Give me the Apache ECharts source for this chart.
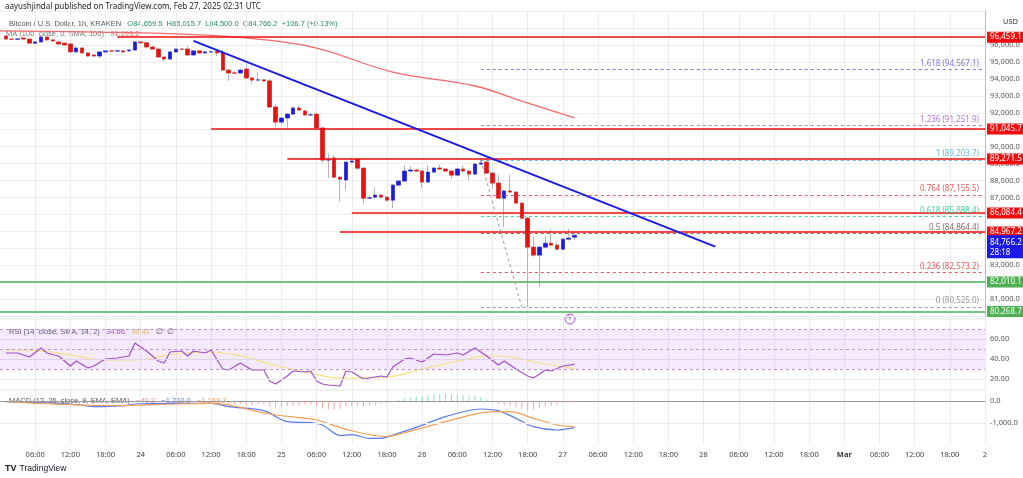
<!DOCTYPE html>
<html><head><meta charset="utf-8">
<script src="https://cdn.jsdelivr.net/npm/echarts@6/dist/echarts.min.js"></script>
<style>html,body{margin:0;padding:0;background:#fff}#c{width:1023px;height:478px}</style>
</head><body><div id="c"></div>
<script>
// ---- data (hour index 0 = Feb 23 00:00 UTC) ----
const FIRST_HOUR = 1;
const openP  = [96530,96350,96340,96410,96350,96100,96180,96470,96300,96180,96110,96060,95590,95820,95530,95410,95350,95590,95650,95640,95650,95650,95700,96180,96130,95880,95760,95290,95170,95590,95760,95760,95410,95650,95530,95590,95620,95530,94520,94350,94350,94580,94050,93930,93940,93880,92340,91450,91690,91920,92280,92100,91870,91920,91100,89210,89330,88200,88030,89090,89270,88730,86960,87020,87140,87020,86840,87730,87970,88560,88620,88560,87910,88500,88740,88680,88560,88320,88680,88560,88380,88970,89090,88440,87850,86960,87380,87320,86670,85780,84070,83600,84070,84300,84190,83950,84540,84659.5];
const closeP = [96350,96340,96360,96350,96110,96180,96470,96300,96240,96060,96000,95590,95820,95530,95350,95350,95590,95650,95640,95660,95590,95700,96180,96130,95880,95760,95290,95170,95590,95760,95750,95410,95650,95530,95590,95600,95530,94520,94350,94340,94520,94050,93930,93940,93880,92340,91450,91690,91920,92280,92160,91870,91880,91100,89210,89230,88200,88080,89090,89150,88730,86960,86980,87140,87020,86840,87730,87970,88560,88620,88560,87910,88500,88740,88680,88560,88320,88680,88560,88380,88970,89030,88440,87850,86960,87380,87320,86670,85780,84070,83600,84070,84300,84190,83950,84540,84600,84766.2];
const highP  = [96560,96400,96400,96450,96380,96220,96500,96500,96330,96200,96130,96100,95880,95850,95560,95450,95620,95700,95700,95700,95700,95740,96250,96220,96150,95950,95800,95250,95620,95800,95800,95950,95700,95680,95640,95660,95700,95700,94560,94450,94560,94900,94100,94400,94000,94000,92500,91750,91980,92380,92420,92180,91950,91980,91150,89600,89500,88260,89150,89350,89330,88800,87150,87600,87200,87080,87800,88000,88900,88850,88700,88620,88900,88800,88950,88720,88620,88750,88900,88620,89050,89330,89330,88500,88320,87450,88320,87380,86700,85820,84700,84120,84700,85130,84350,84600,85150,85015.7];
const lowP   = [96320,96300,96300,96320,96080,96060,96150,96260,96200,96020,95960,95550,95560,95480,95300,95300,95200,95560,95600,95610,95550,95620,95680,96080,95830,95700,95250,95050,95150,95550,95700,95380,95380,95480,95500,95550,95350,94480,93880,94300,94300,94000,93700,93880,93850,92300,91200,91300,91050,91880,92100,91820,91820,91050,89050,88150,88150,86750,87430,89050,88680,86600,86900,86980,86950,86780,86380,87650,87900,88500,88500,87550,87880,88450,88620,88500,88100,88280,88500,88000,88340,88950,88380,87500,86900,85250,87250,86600,85700,80525,83500,81700,84000,84150,83900,83900,84450,84500];

const maHours  = [0,17,34,44,54,67,81,89,98];
const maValues = [96830,96760,96600,96350,95820,94400,93580,92690,91693.2];

const rsiHours  = [1,3,5,7,8,10,12,13,15,16,18,20,22,23,25,27,28,29,31,32,33,35,36,38,39,41,43,45,46,47,49,50,52,53,54,55,56,58,59,60,62,63,65,66,67,69,70,72,74,76,78,79,81,83,85,86,88,90,91,93,94,96,98];
const rsiValues = [46,46,42,51,46,43,33,38,31,33,40,41,43,56,48,38,36,47,48,43,48,46,49,30,29,36,29,29,18,15,23,28,27,28,18,15,14,13,28,27,20,21,23,22,32,40,41,37,45,44,46,44,51,43,34,38,30,23,21,29,28,33,34.66];
const rsiMaHours  = [1,7,12,18,23,30,36,42,46,53,58,66,72,79,83,87,92,98];
const rsiMaValues = [49,48,44,39,39,45,47,42,35,26,21,22,30,39,43,42,36,30.41];

const macdHours  = [1,12,16,21,23,30,36,39,45,49,53,55,58,60,63,65,67,71,76,82,85,88,91,95,98];
const macdValues = [-30,-136,-258,-227,-136,-106,-106,-258,-440,-940,-985,-1090,-1575,-1530,-1700,-1700,-1545,-1200,-712,-364,-440,-788,-1167,-1318,-1210];
const signalHours  = [1,13,20,30,36,39,46,54,59,66,69,76,84,87,91,95,98];
const signalValues = [-30,-180,-212,-136,-106,-180,-591,-864,-1288,-1620,-1440,-940,-485,-485,-788,-1090,-1169.7];
const histFirstHour = 36;
const histValues = [-10,-30,-80,-120,-150,-130,-200,-180,-160,-150,-250,-300,-280,-240,-200,-180,-160,-150,-230,-330,-380,-400,-350,-260,-230,-210,-260,-220,-180,-120,-90,-20,60,110,160,200,220,260,300,320,330,300,290,270,260,230,170,80,-20,-120,-180,-200,-280,-350,-420,-400,-330,-260,-200,-150,-90,-60,-40.3];

const resistLevels = [96459.1, 91045.7, 89271.5, 86084.4, 84967.2];
const supportLevels = [82010.1, 80268.7];
const fibRatios = ['1.618','1.236','1','0.764','0.618','0.5','0.236','0'];
const fibLevels = [94567.1, 91251.9, 89203.7, 87155.5, 85888.4, 84864.4, 82573.2, 80525.0];
const trendStart = [33, 96240], trendEnd = [122, 84100];
const fibDiagStart = [82, 89203.7], fibDiagEnd = [89, 80525.0];
const lastPrice = 84766.2;

// ---- build ----
const N = 169;
const cats = [];
for (let h = 0; h < N; h++) cats.push(String(h));
function fmtLabel(v){
  const h = +v, day = 23 + Math.floor(h/24), hr = h % 24;
  if (hr) return (hr<10?'0':'')+hr+':00';
  if (day === 29) return '{b|Mar}';
  if (day === 30) return '2';
  return String(day);
}
const nf1 = v => v.toLocaleString('en-US',{minimumFractionDigits:1,maximumFractionDigits:1});
const wickData = cats.map(()=>'-'), bodyData = cats.map(()=>'-');
openP.forEach((o,i)=>{
  const h = FIRST_HOUR+i, c = closeP[i];
  wickData[h] = [o,c,lowP[i],highP[i]];
  bodyData[h] = [o,c,Math.min(o,c),Math.max(o,c)];
});
function sparse(hours, vals){ const a = cats.map(()=>null); hours.forEach((h,i)=>a[h]=vals[i]); return a; }
const hist = cats.map(()=>null);
histValues.forEach((v,i)=>hist[histFirstHour+i]=v);

const RED='#f20d0d', GREEN='#4caf50';
const redStart=[20,36,49,60,58];
const fibColors=['#7a7ad8','#b07ad8','#62b8e8','#e05a5a','#3fd1a0','#8a6a6a','#e05a5a','#999'];
const tag = (txt,bg)=>({show:true,position:'end',distance:2,formatter:txt,color:'#fff',backgroundColor:bg,padding:[2,3,1,3],fontSize:8});
const mlData=[];
resistLevels.forEach((v,i)=>mlData.push([{coord:[redStart[i],v],lineStyle:{color:RED,width:1.5,type:'solid'}},{coord:[168,v],label:tag(nf1(v),RED)}]));
supportLevels.forEach(v=>mlData.push([{coord:[0,v],lineStyle:{color:GREEN,width:1.5,type:'solid'}},{coord:[168,v],label:tag(nf1(v),GREEN)}]));
fibLevels.forEach((v,i)=>mlData.push([{coord:[82,v],lineStyle:{color:fibColors[i],width:1,type:[3,3]},label:{show:true,position:'insideEndTop',distance:[6,2],formatter:fibRatios[i]+' ('+nf1(v)+')',color:fibColors[i],fontSize:8}},{coord:[168,v]}]));
mlData.push([{coord:trendStart,lineStyle:{color:'#1a1ae6',width:2,type:'solid'}},{coord:trendEnd}]);
mlData.push([{coord:fibDiagStart,lineStyle:{color:'#999',width:1,type:[3,3]}},{coord:fibDiagEnd}]);
mlData.push([{coord:[167,lastPrice],lineStyle:{color:'rgba(0,0,0,0)',width:1}},{coord:[168,lastPrice],label:{show:true,position:'end',distance:2,formatter:nf1(lastPrice)+'\n28:18',color:'#fff',backgroundColor:'#1a1ae6',padding:[2,3,1,3],fontSize:8,lineHeight:10,align:'left',verticalAlign:'top'}}]);

const FONT='Noto Sans, sans-serif';
const vInt = (i)=> i%6===0 && i>0;
const xBase = (gi,show)=>({type:'category',gridIndex:gi,data:cats,boundaryGap:false,
  axisLine:{show:show,lineStyle:{color:'#999'}},axisTick:{show:false},
  axisLabel:{show:show,interval:(i)=>vInt(i),formatter:fmtLabel,fontSize:7.5,color:'#444',fontFamily:FONT,margin:6,rich:{b:{fontWeight:'bold',fontSize:7.5,color:'#333'}}},
  splitLine:{show:true,interval:(i)=>vInt(i),lineStyle:{color:'#ececec'}}});

const option={
  animation:false,
  textStyle:{fontFamily:FONT},
  grid:[{left:0,right:38,top:11.1,height:305},{left:0,right:38,top:299,height:100},{left:0,right:38,top:379,height:66}],
  xAxis:[xBase(0,false),xBase(1,false),xBase(2,true)],
  yAxis:[
    {gridIndex:0,position:'right',min:80000,max:98000,interval:1000,
     axisLine:{show:true,lineStyle:{color:'#bbb'}},axisTick:{show:false},
     axisLabel:{fontSize:7.5,color:'#555',margin:5,formatter:v=>(v<81000||v>96000)?'':nf1(v)},
     splitLine:{lineStyle:{color:'#efefef'}}},
    {gridIndex:1,position:'right',min:0,max:100,interval:20,
     axisLine:{show:false},axisTick:{show:false},splitLine:{show:false},
     axisLabel:{fontSize:7.5,color:'#555',margin:5,formatter:v=>(v>=20&&v<=60)?v.toFixed(2):''}},
    {gridIndex:2,position:'right',min:-2000,max:1000,interval:1000,
     axisLine:{show:false},axisTick:{show:false},splitLine:{show:false},
     axisLabel:{fontSize:7.5,color:'#555',margin:5,formatter:v=>(v===0||v===-1000)?nf1(v):''}}
  ],
  series:[
    {type:'candlestick',xAxisIndex:0,yAxisIndex:0,data:wickData,barWidth:4,silent:true,
     itemStyle:{color:'#b5b5b5',color0:'#b5b5b5',borderColor:'#b5b5b5',borderColor0:'#b5b5b5',borderWidth:1},
     markLine:{symbol:'none',silent:true,animation:false,label:{show:false},data:mlData}},
    {type:'candlestick',xAxisIndex:0,yAxisIndex:0,data:bodyData,barWidth:4,silent:true,
     itemStyle:{color:'#1b1be0',color0:'#ec1111',borderColor:'#1b1be0',borderColor0:'#ec1111',borderWidth:0.5}},
    {type:'line',xAxisIndex:0,yAxisIndex:0,data:sparse(maHours,maValues),connectNulls:true,smooth:0.4,symbol:'none',lineStyle:{color:'#f26a6a',width:1.3}},
    {type:'line',xAxisIndex:1,yAxisIndex:1,data:sparse(rsiMaHours,rsiMaValues),connectNulls:true,smooth:0.4,symbol:'none',lineStyle:{color:'#f7e07a',width:1.2},
     markArea:{silent:true,itemStyle:{color:'rgba(190,120,240,0.16)'},data:[[{yAxis:30,xAxis:0},{yAxis:70,xAxis:168}]]},
     markLine:{symbol:'none',silent:true,label:{show:false},data:[
       {yAxis:70,lineStyle:{color:'#b99ad0',type:[3,3],width:1}},{yAxis:50,lineStyle:{color:'#b99ad0',type:[3,3],width:1}},{yAxis:30,lineStyle:{color:'#b99ad0',type:[3,3],width:1}},
       {yAxis:60,lineStyle:{color:'#e2d2ee',type:'solid',width:1}},{yAxis:40,lineStyle:{color:'#e2d2ee',type:'solid',width:1}},{yAxis:20,lineStyle:{color:'#ececec',type:'solid',width:1}}]}},
    {type:'line',xAxisIndex:1,yAxisIndex:1,data:sparse(rsiHours,rsiValues),connectNulls:true,symbol:'none',lineStyle:{color:'#a34fc9',width:1.2}},
    {type:'bar',xAxisIndex:2,yAxisIndex:2,data:hist.map(v=>v==null?null:{value:v,itemStyle:{color:v<0?'#f7a3a3':'#8fdccb'}}),barWidth:1,
     markLine:{symbol:'none',silent:true,label:{show:false},data:[{yAxis:0,lineStyle:{color:'#999',type:[3,3],width:1}},{yAxis:-1000,lineStyle:{color:'#ececec',type:'solid',width:1}}]}},
    {type:'line',xAxisIndex:2,yAxisIndex:2,data:sparse(macdHours,macdValues),connectNulls:true,smooth:0.3,symbol:'none',lineStyle:{color:'#5c7cf2',width:1.2}},
    {type:'line',xAxisIndex:2,yAxisIndex:2,data:sparse(signalHours,signalValues),connectNulls:true,smooth:0.3,symbol:'none',lineStyle:{color:'#f5a05a',width:1.2}}
  ],
  graphic:[
    {type:'rect',left:0,top:0,shape:{width:1023,height:17},style:{fill:'#fff'},z:-1},
    {type:'text',left:5,top:3,style:{text:'aayushjindal published on TradingView.com, Feb 27, 2025 02:31 UTC',fontSize:8,fill:'#222',fontFamily:FONT}},
    {type:'text',left:9,top:18,style:{text:'{a|Bitcoin / U.S. Dollar, 1h, KRAKEN}  {g|O84,659.5  H85,015.7  L84,500.0  C84,766.2  +106.7 (+0.13%)}',fontFamily:FONT,rich:{a:{fontSize:7.5,fill:'#555'},g:{fontSize:7.5,fill:'#2d8a6a'}}}},
    {type:'text',left:6,top:27.5,style:{text:'{a|MA (100, close, 0, SMA, 100)}  {r|91,693.2}',fontFamily:FONT,rich:{a:{fontSize:7.5,fill:'#777'},r:{fontSize:7.5,fill:'#f26a6a'}}}},
    {type:'text',left:1003,top:18,style:{text:'USD',fontSize:7.5,fill:'#333',fontFamily:FONT}},
    {type:'text',left:9,top:326,style:{text:'{a|RSI (14, close, SMA, 14, 2)}  {p|34.66}  {y|30.41}  {a|∅  ∅}',fontFamily:FONT,rich:{a:{fontSize:7.5,fill:'#555'},p:{fontSize:7.5,fill:'#a34fc9'},y:{fontSize:7.5,fill:'#e6c84a'}}}},
    {type:'text',left:9,top:395,style:{text:'{a|MACD (12, 26, close, 9, EMA, EMA)}  {r|−40.3}  {b|−1,210.0}  {o|−1,169.7}',fontFamily:FONT,rich:{a:{fontSize:7.5,fill:'#555'},r:{fontSize:7.5,fill:'#f28b8b'},b:{fontSize:7.5,fill:'#5c7cf2'},o:{fontSize:7.5,fill:'#f5a05a'}}}},
    {type:'line',shape:{x1:0,y1:319,x2:985,y2:319},style:{stroke:'#e4e4e4',lineWidth:1}},
    {type:'line',shape:{x1:0,y1:390,x2:985,y2:390},style:{stroke:'#e4e4e4',lineWidth:1}},
    {type:'circle',shape:{cx:570,cy:319,r:5},style:{fill:'#fff',stroke:'#a34fc9',lineWidth:1}},
    {type:'text',left:567,top:314,style:{text:'ϟ',fontSize:8,fill:'#a34fc9'}},
    {type:'text',left:5,top:463,style:{text:'{l|TV} {t|TradingView}',fontFamily:FONT,rich:{l:{fontSize:9,fontWeight:'bold',fill:'#131722'},t:{fontSize:8.5,fill:'#131722'}}}}
  ]
};
echarts.init(document.getElementById('c')).setOption(option);
</script></body></html>
